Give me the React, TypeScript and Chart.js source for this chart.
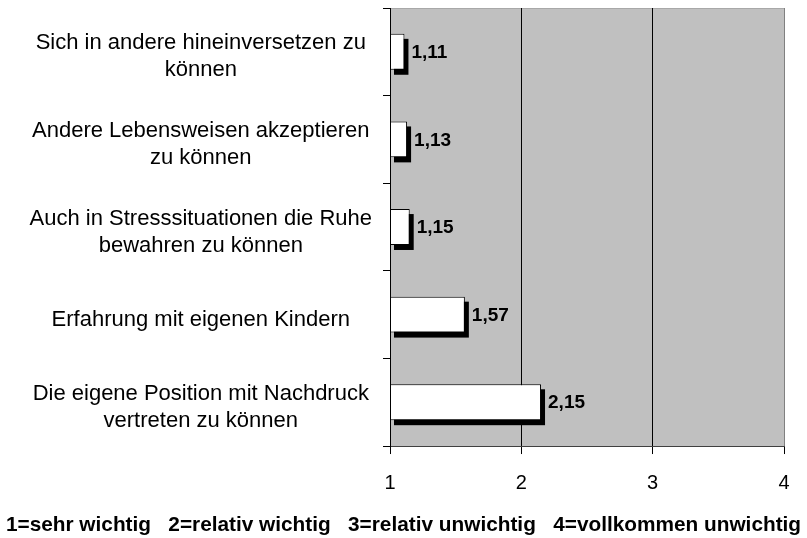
import React, { useEffect, useRef } from "react";
import { Chart, registerables } from "chart.js";

Chart.register(...registerables);

const categories: (string | string[])[] = [
  ["Sich in andere hineinversetzen zu", "können"],
  ["Andere Lebensweisen akzeptieren", "zu können"],
  ["Auch in Stresssituationen die Ruhe", "bewahren zu können"],
  "Erfahrung mit eigenen Kindern",
  ["Die eigene Position mit Nachdruck", "vertreten zu können"],
];
const values: number[] = [1.11, 1.13, 1.15, 1.57, 2.15];
const scaleMin = 1;
const scaleMax = 4;
const footnote =
  "1=sehr wichtig   2=relativ wichtig   3=relativ unwichtig   4=vollkommen unwichtig";

const FONT = "'Liberation Sans', Arial, sans-serif";

const plotBg = {
  id: "plotBg",
  beforeDraw(chart: any) {
    const { ctx, chartArea: a } = chart;
    ctx.save();
    ctx.fillStyle = "#C0C0C0";
    ctx.fillRect(a.left, a.top, a.right - a.left, a.bottom - a.top);
    ctx.lineWidth = 1;
    ctx.strokeStyle = "#A8A8A8";
    ctx.beginPath();
    ctx.moveTo(a.left, a.top + 0.5);
    ctx.lineTo(a.right, a.top + 0.5);
    ctx.stroke();
    ctx.restore();
  },
};

const categoryLabels = {
  id: "categoryLabels",
  afterDraw(chart: any) {
    const { ctx } = chart;
    const yScale = chart.scales.y;
    const a = chart.chartArea;
    ctx.save();
    ctx.fillStyle = "#000";
    ctx.font = `22px ${FONT}`;
    ctx.textAlign = "center";
    ctx.textBaseline = "middle";
    let widest = 0;
    categories.forEach((c) => {
      const lines = Array.isArray(c) ? c : [c];
      lines.forEach((l) => {
        widest = Math.max(widest, ctx.measureText(l).width);
      });
    });
    const cx = a.left - 18 - widest / 2;
    const lh = 27;
    categories.forEach((c, i) => {
      const lines = Array.isArray(c) ? c : [c];
      const yc = yScale.getPixelForTick(i) + 5;
      lines.forEach((l, j) => {
        ctx.fillText(l, cx, yc + (j - (lines.length - 1) / 2) * lh);
      });
    });
    ctx.restore();
  },
};

const shadowAndLabels = {
  id: "shadowAndLabels",
  beforeDatasetsDraw(chart: any) {
    const { ctx } = chart;
    const meta = chart.getDatasetMeta(0);
    ctx.save();
    ctx.fillStyle = "#000";
    meta.data.forEach((el: any) => {
      const p = el.getProps(["x", "y", "base", "height"], true);
      const l = Math.min(p.x, p.base);
      const r = Math.max(p.x, p.base);
      const t = p.y - p.height / 2;
      ctx.fillRect(l + 4, t + 5, r - l, p.height);
    });
    ctx.restore();
  },
  afterDatasetsDraw(chart: any) {
    const { ctx } = chart;
    const meta = chart.getDatasetMeta(0);
    ctx.save();
    ctx.fillStyle = "#000";
    ctx.font = `bold 19px ${FONT}`;
    ctx.textAlign = "left";
    ctx.textBaseline = "middle";
    meta.data.forEach((el: any, i: number) => {
      const p = el.getProps(["x", "y"], true);
      ctx.fillText(values[i].toFixed(2).replace(".", ","), p.x + 7, p.y + 1);
    });
    ctx.restore();
  },
};

export default function App() {
  const ref = useRef<HTMLCanvasElement | null>(null);
  useEffect(() => {
    if (!ref.current) return;
    const chart = new Chart(ref.current, {
      type: "bar",
      data: {
        labels: categories,
        datasets: [
          {
            data: values.map((v) => [scaleMin, v]) as any,
            backgroundColor: "#FFFFFF",
            borderColor: "#000000",
            borderWidth: 1,
            borderSkipped: false,
            categoryPercentage: 1,
            barPercentage: 0.41,
          },
        ],
      },
      options: {
        indexAxis: "y",
        animation: false,
        responsive: true,
        maintainAspectRatio: false,
        layout: { padding: { top: 8, right: 0, left: 0, bottom: 0 } },
        plugins: {
          legend: { display: false },
          tooltip: { enabled: false },
          title: {
            display: true,
            position: "bottom",
            text: footnote,
            color: "#000",
            font: { family: FONT, size: 20.8, weight: "bold", lineHeight: 1.2 },
            padding: { top: 0, bottom: 0 },
          },
        },
        scales: {
          x: {
            type: "linear",
            min: scaleMin,
            max: scaleMax,
            ticks: {
              stepSize: 1,
              color: "#000",
              padding: 17,
              font: { family: FONT, size: 20 },
            },
            grid: {
              color: (c: any) => (c.tick && c.tick.value === scaleMax ? "#808080" : "#000"),
              tickColor: "#000",
              tickLength: 8,
              lineWidth: 1,
            },
            border: { color: "#404040", width: 1 },
            afterFit: (s: any) => {
              s.height = 67;
              s.paddingRight = 23;
              s.paddingLeft = 0;
            },
          },
          y: {
            ticks: {
              display: false,
            },
            grid: {
              drawOnChartArea: false,
              drawTicks: true,
              tickLength: 7,
              color: "#000",
              offset: true,
            },
            border: { color: "#000", width: 1 },
            afterFit: (s: any) => {
              s.width = 390;
              s.paddingTop = 0;
              s.paddingBottom = 0;
            },
          },
        },
      },
      plugins: [plotBg, shadowAndLabels, categoryLabels],
    });
    return () => chart.destroy();
  }, []);
  return (
    <div style={{ position: "fixed", left: 0, top: 0, width: 807, height: 538, background: "#fff" }}>
      <canvas ref={ref} />
    </div>
  );
}
